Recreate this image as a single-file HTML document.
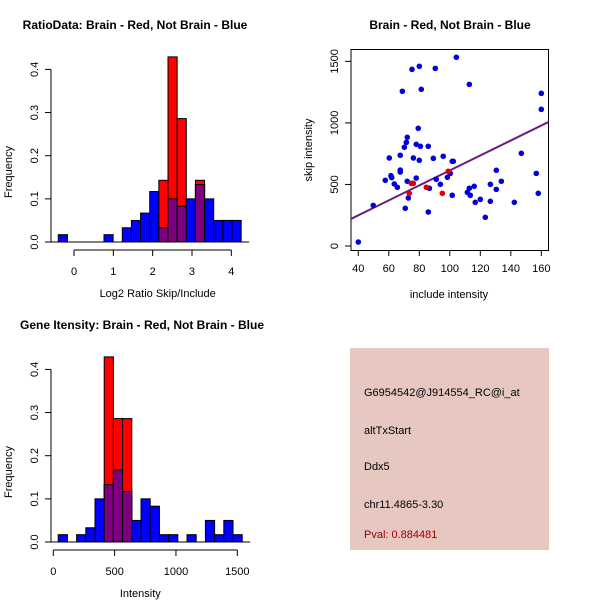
<!DOCTYPE html>
<html><head><meta charset="utf-8"><style>
html,body{margin:0;padding:0;background:#fff;}
svg{display:block;font-family:"Liberation Sans",sans-serif;}
</style></head><body>
<svg id="c" width="600" height="600" viewBox="0 0 600 600">
<rect width="600" height="600" fill="#fff"/>
<g id="p1"></g>
<g id="p2"></g>
<g id="p3"></g>
<g>
<rect x="350" y="348" width="199" height="202" fill="#e6c8c1"/>
<text x="364" y="396" font-size="11">G6954542@J914554_RC@i_at</text>
<text x="364" y="434" font-size="11">altTxStart</text>
<text x="364" y="470" font-size="11">Ddx5</text>
<text x="364" y="508" font-size="11">chr11.4865-3.30</text>
<text x="364" y="538" font-size="11" fill="#a00000">Pval: 0.884481</text>
</g>
</svg>
<script>
// Ratio histogram data
const ratioBinStart = -0.4, ratioBinWidth = 0.2325;
const ratioBlue = [0.017,0,0,0,0,0.017,0,0.033,0.05,0.067,0.117,0.033,0.1,0.083,0.1,0.133,0.1,0.05,0.05,0.05];
const ratioRed  = [0,0,0,0,0,0,0,0,0,0,0,0.143,0.429,0.286,0,0.143,0,0,0,0];
const ratioXTicks = [0,1,2,3,4];
const freqTicks = ["0.0","0.1","0.2","0.3","0.4"];
// Intensity histogram data
const intBinStart = 40, intBinWidth = 75;
const intBlue = [0.017,0,0.017,0.033,0.1,0.133,0.167,0.117,0.05,0.1,0.083,0.017,0.017,0,0.017,0,0.05,0.017,0.05,0.017];
const intRed  = [0,0,0,0,0,0.429,0.286,0.286,0,0,0,0,0,0,0,0,0,0,0,0];
const intXTicks = [0,500,1000,1500];
// Scatter data
const blueX = [40,49.8,57.7,60.3,61.4,61.9,63.6,65.6,67.5,67.5,67.5,68.9,70.2,71.5,72.1,72.8,72.1,70.8,75.2,76.1,78,78,79.3,80,80,80.7,81.3,85.9,85.9,86.6,89.2,90.5,93.8,95.7,91.1,98.4,104.3,112.8,101.6,102.3,100.3,101.6,111.5,112.8,113.4,116,116.7,120,123.3,126.6,126.6,130.5,130.5,133.8,142.3,146.9,156.7,158,160,160];
const blueY = [32,330,534,715,571,555,504,477,737,617,601,1257,802,842,883,390,526,306,1435,715,552,826,956,1460,696,810,1273,810,276,469,712,1443,501,729,542,558,1533,1313,688,688,590,412,436,469,412,485,355,379,233,501,363,615,460,526,355,753,590,428,1240,1110];
const redX = [73.4,74.8,76.1,84.6,95.1,99];
const redY = [428,509,509,477,428,607];
const fitIntercept = 6, fitSlope = 6.08;
const scatXTicks = [40,60,80,100,120,140,160];
const scatYTicks = [0,500,1000,1500];

const NS="http://www.w3.org/2000/svg";
function mk(parent,tag,attrs,name){const e=document.createElementNS(NS,tag);for(const k in attrs)e.setAttribute(k,attrs[k]);


parent.appendChild(e);return e;}
function txt(parent,x,y,s,name,opt){const t=mk(parent,'text',Object.assign({x:x,y:y,'font-size':11,'text-anchor':'middle'},opt||{}),name);t.textContent=s;return t;}

function hist(g,y0,title,titleX,xlab,binStart,binW,blue,red,xTicks,xs,xLabFmt){
  const ys=v=>y0-v*431.5;
  txt(g,titleX,y0-213,title,'plot-title',{'font-weight':'bold','font-size':12});
  for(let i=0;i<blue.length;i++){
    const x1=xs(binStart+i*binW),x2=xs(binStart+(i+1)*binW);
    const b=blue[i],r=red[i];
    if(b>0) mk(g,'rect',{x:x1,y:ys(b),width:x2-x1,height:y0-ys(b),fill:'#0000ff',stroke:'#000','stroke-width':1},'bar-blue');
    if(r>0) mk(g,'rect',{x:x1,y:ys(r),width:x2-x1,height:y0-ys(r),fill:'#ff0000',stroke:'#000','stroke-width':1},'bar-red');
    if(b>0&&r>0){const m=Math.min(b,r);mk(g,'rect',{x:x1,y:ys(m),width:x2-x1,height:y0-ys(m),fill:'#7f007f',stroke:'#000','stroke-width':1},'bar-overlap');}
  }
  mk(g,'line',{x1:xs(binStart)-8,x2:xs(binStart+blue.length*binW)+8,y1:y0,y2:y0,stroke:'#000'},'baseline');
  // y axis
  mk(g,'line',{x1:51,x2:51,y1:ys(0),y2:ys(0.4),stroke:'#000'},'y-axis');
  freqTicks.forEach((s,i)=>{const v=i*0.1;mk(g,'line',{x1:45,x2:51,y1:ys(v),y2:ys(v),stroke:'#000'},'y-tick');
    txt(g,38,ys(v),s,'y-tick-label',{transform:`rotate(-90 38 ${ys(v)})`});});
  txt(g,12,y0-70,'Frequency','y-axis-title',{transform:`rotate(-90 12 ${y0-70})`});
  // x axis
  const ay=y0+8;
  mk(g,'line',{x1:xs(xTicks[0]),x2:xs(xTicks[xTicks.length-1]),y1:ay,y2:ay,stroke:'#000'},'x-axis');
  xTicks.forEach(v=>{mk(g,'line',{x1:xs(v),x2:xs(v),y1:ay,y2:ay+6,stroke:'#000'},'x-tick');txt(g,xs(v),ay+25,String(v),'x-tick-label');});
  txt(g,xs(xTicks[0])+(xs(xTicks[xTicks.length-1])-xs(xTicks[0]))/2+ (xlab==='Intensity'?-5:5),y0+55,xlab,'x-axis-title');
}
hist(document.getElementById('p1'),242,'RatioData: Brain - Red, Not Brain - Blue',135,'Log2 Ratio Skip/Include',ratioBinStart,ratioBinWidth,ratioBlue,ratioRed,ratioXTicks,v=>74+v*39.33);
hist(document.getElementById('p3'),542,'Gene Itensity: Brain - Red, Not Brain - Blue',142,'Intensity',intBinStart,intBinWidth,intBlue,intRed,intXTicks,v=>53.3+v*0.12267);

// scatter
(function(){
  const g=document.getElementById('p2');
  const xs=v=>358.3+(v-40)*1.525, ys=v=>246-v*0.1231;
  txt(g,450,29,'Brain - Red, Not Brain - Blue','plot-title',{'font-weight':'bold','font-size':12});
  mk(g,'rect',{x:351,y:49.5,width:197.5,height:201,fill:'none',stroke:'#000'},'plot-frame');
  const cp=mk(g,'clipPath',{id:'sc'},'clip');mk(cp,'rect',{x:351,y:49.5,width:197.5,height:201},'clip-rect');
  mk(g,'line',{x1:xs(35),y1:ys(fitIntercept+fitSlope*35),x2:xs(165),y2:ys(fitIntercept+fitSlope*165),stroke:'#6a1a80','stroke-width':2,'clip-path':'url(#sc)'},'fit-line');
  blueX.forEach((x,i)=>mk(g,'circle',{cx:xs(x),cy:ys(blueY[i]),r:2.8,fill:'#0000dd'},'point-blue'));
  redX.forEach((x,i)=>mk(g,'circle',{cx:xs(x),cy:ys(redY[i]),r:2.8,fill:'#dd0000'},'point-red'));
  scatXTicks.forEach(v=>{mk(g,'line',{x1:xs(v),x2:xs(v),y1:250.5,y2:256,stroke:'#000'},'x-tick');txt(g,xs(v),272,String(v),'x-tick-label');});
  scatYTicks.forEach(v=>{mk(g,'line',{x1:345,x2:351,y1:ys(v),y2:ys(v),stroke:'#000'},'y-tick');txt(g,338,ys(v),String(v),'y-tick-label',{transform:`rotate(-90 338 ${ys(v)})`});});
  txt(g,449,298,'include intensity','x-axis-title');
  txt(g,312,150,'skip intensity','y-axis-title',{transform:'rotate(-90 312 150)'});
})();
</script>
</body></html>
